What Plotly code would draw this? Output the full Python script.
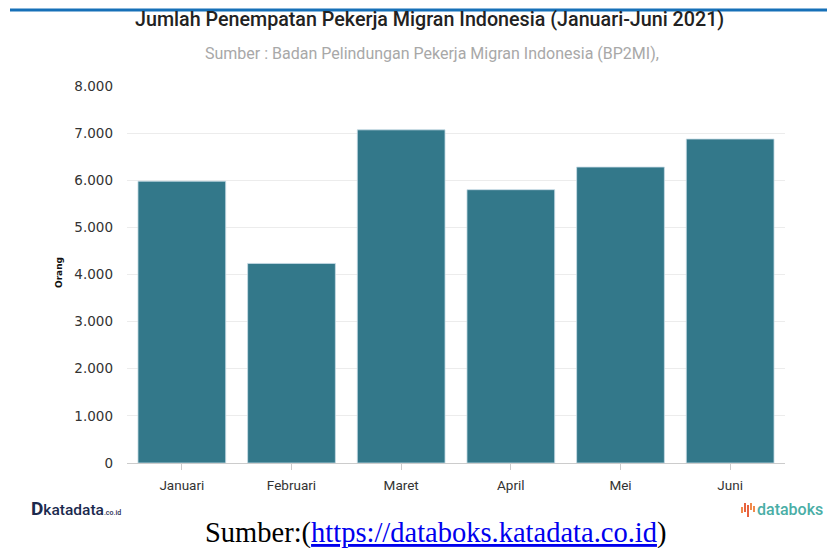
import plotly.graph_objects as go

months = ["Januari", "Februari", "Maret", "April", "Mei", "Juni"]
workers = [5980, 4235, 7070, 5800, 6280, 6875]
y_ticks = [0, 1000, 2000, 3000, 4000, 5000, 6000, 7000, 8000]

W, H = 835, 548
OFF = 8  # page body margin
L, R, T, B = 127 - OFF, 50 + OFF, 86 - OFF, 85 + OFF
PW, PH = W - L - R, H - T - B

def px(x):
    return (x - OFF - L) / PW

def py(y):
    return (H - B - (y - OFF)) / PH

fig = go.Figure(go.Bar(
    x=months, y=workers,
    marker=dict(color="#33788a", line=dict(color="rgba(200,220,230,0.8)", width=1)),
    width=0.8,
))

fig.update_layout(
    width=W, height=H,
    margin=dict(l=L, r=R, t=T, b=B),
    paper_bgcolor="white", plot_bgcolor="white",
    separators=",.",
    showlegend=False,
    font=dict(family="DejaVu Sans", color="#333"),
    bargap=0.2,
)
fig.update_yaxes(
    range=[0, 8000], tickvals=y_ticks, tickformat=",d",
    showgrid=True, gridcolor="#ececec", gridwidth=1,
    zeroline=False, showline=False,
    tickfont=dict(family="DejaVu Sans", size=13.5, color="#333"),
    ticks="", ticklabelstandoff=13,
)
fig.update_xaxes(
    showline=True, linecolor="#cccccc", linewidth=1,
    ticks="outside", ticklen=6, tickcolor="#cccccc",
    tickfont=dict(family="Roboto", size=13.5, color="#333"),
    ticklabelstandoff=4,
)

shapes = [
    dict(type="line", xref="paper", yref="paper", x0=px(10), x1=px(845),
         y0=py(10), y1=py(10), line=dict(color="#1670b8", width=3)),
]
for x, y0, y1, c in [(742, 507, 513, "#f08a4b"), (745, 503, 512, "#e8623f"),
                     (748, 505, 517, "#e8623f"), (751, 503, 510, "#f08a4b"),
                     (754, 506, 512, "#f08a4b")]:
    shapes.append(dict(type="line", xref="paper", yref="paper", x0=px(x), x1=px(x),
                       y0=py(y0), y1=py(y1), line=dict(color=c, width=2)))
fig.update_layout(shapes=shapes)

ann = [
    dict(text="Jumlah Penempatan Pekerja Migran Indonesia (Januari-Juni 2021)",
         x=px(429), y=py(19), font=dict(family="Roboto", size=19.7, color="#222", weight=500)),
    dict(text="Sumber : Badan Pelindungan Pekerja Migran Indonesia (BP2MI),",
         x=px(432), y=py(53), font=dict(family="Roboto", size=16, color="#a8a8a8")),
    dict(text="<b>Orang</b>", textangle=-90, x=px(59), y=py(273),
         font=dict(family="DejaVu Sans", size=9, color="#111")),
    dict(text="<span style='font-size:19px'><b>D</b></span>katadata<span style='font-size:7px'>.co.id</span>",
         x=px(76), y=py(508), font=dict(family="Roboto", size=15.5, color="#1b2a4e", weight=500)),
    dict(text="databoks", x=px(790), y=py(509),
         font=dict(family="Roboto", size=16, color="#4aaea6", weight=500)),
    dict(text="Sumber:(<a href='https://databoks.katadata.co.id' style='color:#0000ee'><u>https://databoks.katadata.co.id</u></a>)",
         x=px(435), y=py(533), font=dict(family="Liberation Serif", size=28.5, color="#000")),
]
for a in ann:
    a.update(xref="paper", yref="paper", showarrow=False, xanchor="center", yanchor="middle")
fig.update_layout(annotations=ann)

fig.write_html("out.html")
